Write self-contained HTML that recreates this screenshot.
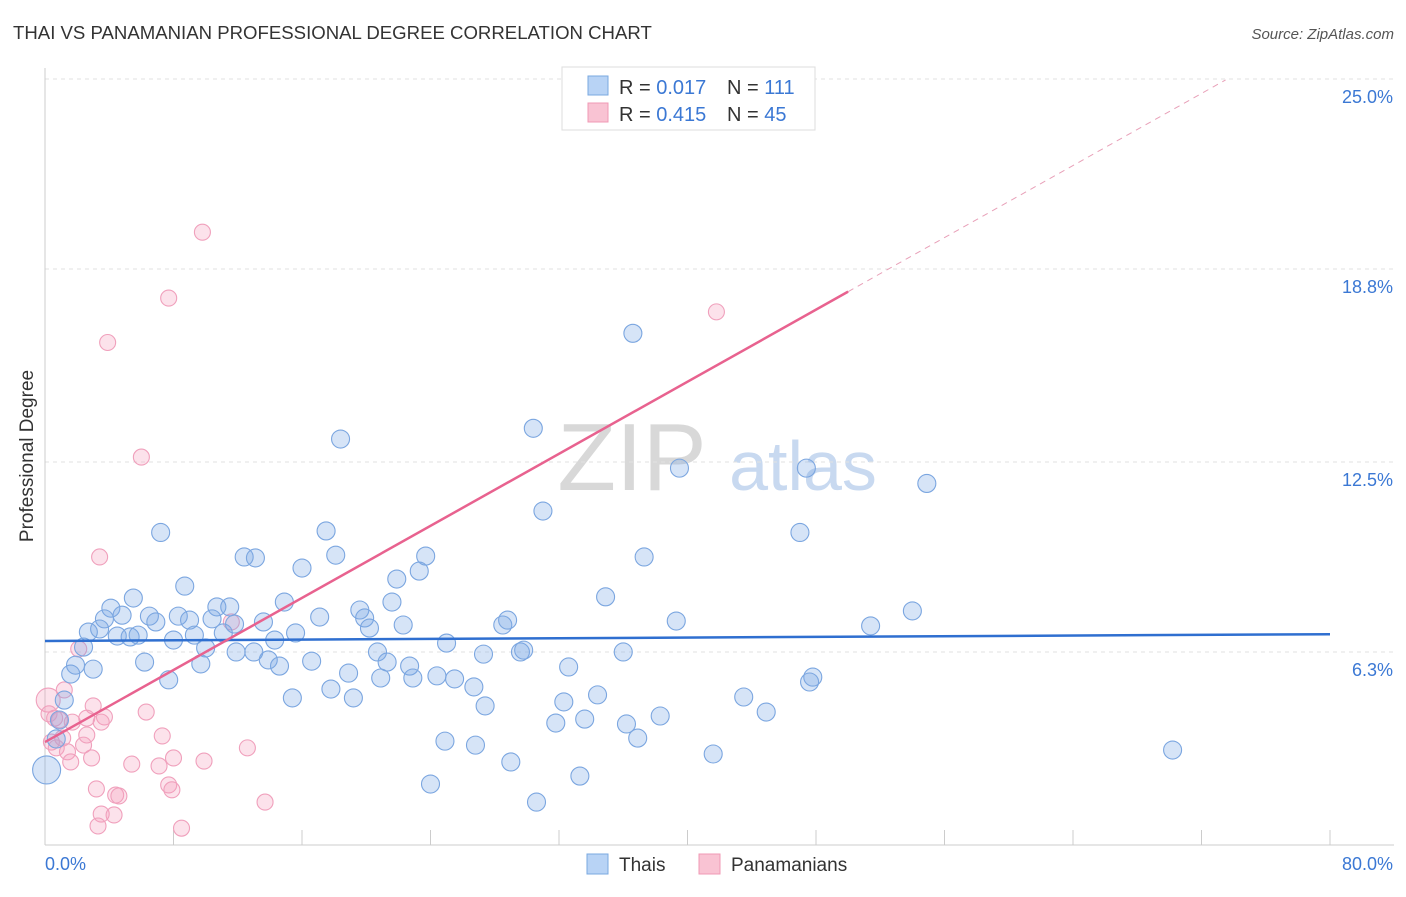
<!DOCTYPE html>
<html><head><meta charset="utf-8">
<style>
body{margin:0;background:#fff;font-family:"Liberation Sans",sans-serif;}
svg text{font-family:"Liberation Sans",sans-serif;}
</style></head>
<body>
<svg id="chart" width="1406" height="892" viewBox="0 0 1406 892" xmlns="http://www.w3.org/2000/svg">
<text x="13" y="39" font-size="18.6" fill="#333">THAI VS PANAMANIAN PROFESSIONAL DEGREE CORRELATION CHART</text>
<text x="1394" y="39" font-size="15" fill="#555" text-anchor="end" font-style="italic">Source: ZipAtlas.com</text>
<g>
<text x="632" y="490" font-size="96" fill="#d8d8d8" font-family="Liberation Serif,serif" text-anchor="middle">ZIP</text>
<text x="803" y="490" font-size="70" fill="#c8d9f0" text-anchor="middle">atlas</text>
</g>
<g id="grid"></g>
<g id="axes"></g>
<g id="pinkPts"></g>
<g id="bluePts"></g>
<g id="lines"></g>
<text transform="translate(33,456) rotate(-90)" font-size="19" fill="#333" text-anchor="middle">Professional Degree</text>
<g>
<rect x="562" y="67" width="253" height="63" fill="#fff" stroke="#ddd"/>
<rect x="588" y="76" width="20" height="19" fill="#b8d3f5" stroke="#7aa8e0"/>
<rect x="588" y="103" width="20" height="19" fill="#f9c3d3" stroke="#f09ab5"/>
<text x="619" y="94" font-size="20" fill="#333">R = <tspan fill="#3b78d4">0.017</tspan></text>
<text x="727" y="94" font-size="20" fill="#333">N = <tspan fill="#3b78d4">111</tspan></text>
<text x="619" y="121" font-size="20" fill="#333">R = <tspan fill="#3b78d4">0.415</tspan></text>
<text x="727" y="121" font-size="20" fill="#333">N = <tspan fill="#3b78d4">45</tspan></text>
</g>
<g>
<rect x="587" y="854" width="21" height="20" fill="#b8d3f5" stroke="#7aa8e0"/>
<text x="619" y="871" font-size="19" fill="#333">Thais</text>
<rect x="699" y="854" width="21" height="20" fill="#f9c3d3" stroke="#f09ab5"/>
<text x="731" y="871" font-size="19" fill="#333">Panamanians</text>
</g>
</svg>
<script>
const blueX=[36.6,18.4,30.4,39.5,47.4,54.9,31.0,7.2,17.5,47.0,12.4,13.1,18.1,23.7,37.3,16.0,23.3,21.9,8.7,34.9,5.5,4.1,10.7,11.5,14.9,19.6,21.6,54.0,3.7,4.8,6.5,8.3,9.0,10.4,17.1,19.9,22.3,28.5,28.8,39.3,51.4,2.7,3.4,4.5,5.3,5.8,6.9,8.0,9.3,11.1,11.8,13.6,15.6,20.2,14.3,25.0,2.4,11.9,13.0,10.0,13.9,6.2,9.7,14.6,16.6,20.7,21.3,27.3,29.6,29.8,36.0,1.9,3.0,1.6,7.7,18.9,20.9,22.7,22.9,24.4,25.5,32.6,47.8,47.6,17.8,26.7,15.4,19.2,34.4,32.3,43.5,1.2,27.4,38.3,44.9,31.8,33.6,36.2,36.9,24.9,26.8,41.6,70.2,29.0,33.3,24.0,30.6,0.1,0.7,0.9];
const blueY=[16.7,13.25,13.6,12.3,12.3,11.8,10.9,10.2,10.25,10.2,9.4,9.37,9.46,9.43,9.4,9.04,8.94,8.68,8.45,8.1,8.06,7.73,7.77,7.77,7.93,7.67,7.93,7.64,7.38,7.5,7.47,7.47,7.34,7.38,7.44,7.41,7.18,7.18,7.34,7.31,7.15,6.95,7.05,6.82,6.79,6.85,7.28,6.69,6.85,6.92,7.21,7.28,6.92,7.08,6.69,6.59,6.46,6.3,6.3,6.43,6.04,5.97,5.91,5.84,6.0,6.3,5.97,6.23,6.3,6.36,6.3,5.87,5.74,5.58,5.39,5.61,5.45,5.84,5.45,5.52,5.42,5.81,5.48,5.32,5.09,5.16,4.8,4.8,4.9,4.67,4.83,4.73,4.54,4.21,4.34,3.98,4.11,3.95,3.49,3.39,3.26,2.97,3.1,2.71,2.25,1.99,1.4,2.45,3.46,4.08];
const pinkX=[9.8,7.7,3.9,41.8,6.0,3.4,2.1,1.2,0.2,0.25,0.6,0.9,3.0,6.3,2.6,3.7,1.7,1.1,0.4,0.7,7.3,2.4,2.6,1.4,1.6,2.9,5.4,7.1,8.0,9.9,12.6,11.6,3.2,7.7,7.9,4.4,4.6,3.5,4.3,3.3,8.5,13.7,3.5];
const pinkY=[20.0,17.85,16.4,17.4,12.66,9.4,6.4,5.06,4.73,4.28,4.14,4.08,4.54,4.34,4.14,4.18,4.01,3.49,3.36,3.17,3.56,3.26,3.59,3.04,2.71,2.84,2.64,2.58,2.84,2.74,3.17,7.28,1.83,1.96,1.8,1.63,1.6,1.01,0.98,0.62,0.55,1.4,4.01];
const yTicks=[6.3,12.5,18.8,25.0];
const yTickLabels=["6.3%","12.5%","18.8%","25.0%"];
const xTickVals=[0,8,16,24,32,40,48,56,64,72,80];
const blueLine=[6.66,6.88];
const pinkLine=[3.36,0.294];

const NS="http://www.w3.org/2000/svg";
const X0=45,X1=1330,Y0=845,PY=30.64;
const sx=v=>X0+(v/80)*(X1-X0);
const sy=v=>Y0-v*PY;
function mk(tag,attrs,parent){const e=document.createElementNS(NS,tag);for(const k in attrs)e.setAttribute(k,attrs[k]);parent.appendChild(e);return e;}
const grid=document.getElementById('grid'),axes=document.getElementById('axes');
yTicks.forEach((t,i)=>{
  const l=mk('line',{x1:X0,x2:1394,y1:sy(t),y2:sy(t),stroke:'#e2e2e2','stroke-dasharray':'4,4'},grid);
  
  
  const tx=mk('text',{x:1393,y:sy(t)+24,'font-size':18,fill:'#3b78d4','text-anchor':'end'},axes);
  tx.textContent=yTickLabels[i];
  
  
});
const yl=mk('line',{x1:X0,x2:X0,y1:68,y2:Y0,stroke:'#ccc'},axes);


const xl=mk('line',{x1:X0,x2:1394,y1:Y0,y2:Y0,stroke:'#ccc'},axes);


xTickVals.forEach(v=>{
  const t=mk('line',{x1:sx(v),x2:sx(v),y1:Y0,y2:Y0-15,stroke:'#ccc'},axes);
  
  
});
const xa=mk('text',{x:45,y:870,'font-size':18,fill:'#3b78d4'},axes);xa.textContent='0.0%';


const xb=mk('text',{x:1393,y:870,'font-size':18,fill:'#3b78d4','text-anchor':'end'},axes);xb.textContent='80.0%';


const bp=document.getElementById('bluePts'),pp=document.getElementById('pinkPts');
blueX.forEach((x,i)=>{
  const c=mk('circle',{cx:sx(x),cy:sy(blueY[i]),r:(i==107?14:9),fill:'rgba(120,165,230,0.3)',stroke:'#7ba6e0','stroke-width':1.1},bp);
  
  
});
pinkX.forEach((x,i)=>{
  const c=mk('circle',{cx:sx(x),cy:sy(pinkY[i]),r:(i==8?12:8),fill:'rgba(245,160,190,0.3)',stroke:'#f0a0bc','stroke-width':1.1},pp);
  
  
});
const lg=document.getElementById('lines');
const bl=mk('line',{x1:sx(0),y1:sy(blueLine[0]),x2:sx(80),y2:sy(blueLine[1]),stroke:'#2f6fd0','stroke-width':2.5},lg);


const pe=50,pend=73.5;
const pl=mk('line',{x1:sx(0),y1:sy(pinkLine[0]),x2:sx(pe),y2:sy(pinkLine[0]+pinkLine[1]*pe),stroke:'#e8628f','stroke-width':2.5},lg);


const pd=mk('line',{x1:sx(pe),y1:sy(pinkLine[0]+pinkLine[1]*pe),x2:sx(pend),y2:sy(pinkLine[0]+pinkLine[1]*pend),stroke:'#e8a0b8','stroke-width':1,'stroke-dasharray':'6,5'},lg);


</script>
</body></html>
